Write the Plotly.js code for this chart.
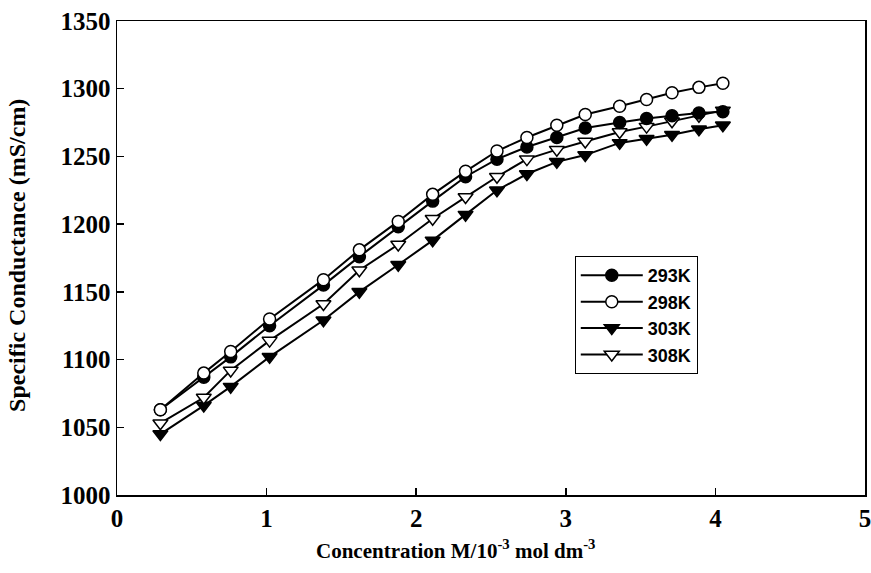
<!DOCTYPE html>
<html>
<head>
<meta charset="utf-8">
<script src="https://cdn.plot.ly/plotly-3.0.1.min.js"></script>
<style>html,body{margin:0;padding:0;background:#fff;}#chart{width:871px;height:573px;}</style>
</head>
<body>
<div id="chart"></div>
<script>
const concentration = [0.29,0.58,0.76,1.02,1.38,1.62,1.88,2.11,2.33,2.54,2.74,2.94,3.13,3.36,3.54,3.71,3.89,4.05];
const k293 = [1063,1087,1102,1125,1155,1176,1198,1217,1235,1248,1257,1264,1271,1275,1278,1280,1282,1283];
const k298 = [1063,1090,1106,1130,1159,1181,1202,1222,1239,1254,1264,1273,1281,1287,1292,1297,1301,1304];
const k303 = [1045,1066,1080,1102,1129,1150,1170,1188,1207,1225,1237,1246,1251,1260,1263,1266,1270,1273];
const k308 = [1053,1072,1092,1114,1141,1166,1185,1204,1220,1235,1248,1255,1261,1268,1272,1276,1280,1284];
const seriesNames = ['293K','298K','303K','308K'];
const xTicks = [0,1,2,3,4,5];
const yTicks = [1000,1050,1100,1150,1200,1250,1300,1350];
const xTitle = 'Concentration M/10<sup>-3</sup> mol dm<sup>-3</sup>';
const yTitle = 'Specific Conductance (mS/cm)';

const symbols = ['circle','circle','triangle-down','triangle-down'];
const fills = ['#000','#fff','#000','#fff'];
const data = [k293,k298,k303,k308].map((ys,i)=>({
  x: concentration, y: ys, name: seriesNames[i], type:'scatter', mode:'lines+markers',
  legendrank: i+1,
  line:{color:'#000', width:2},
  marker:{symbol: symbols[i], size: i>=2?13:12, color: fills[i], line:{color:'#000', width:1.5}}
}));
// draw filled series first so open markers sit on top where they overlap
const order = [data[2], data[3], data[0], data[1]];
const serif = 'Liberation Serif, Times New Roman, serif';
const tickFont = {family:serif, size:25, color:'#000', weight:'bold'};
const layout = {
  width:871, height:573,
  margin:{l:117, r:6, t:21, b:78},
  paper_bgcolor:'#fff', plot_bgcolor:'#fff',
  showlegend:true,
  legend:{x:0.612, y:0.504, xanchor:'left', yanchor:'top', bordercolor:'#000', borderwidth:1,
    bgcolor:'#fff', font:{family:'Liberation Sans, Arial, sans-serif', size:18, color:'#000', weight:'bold'},
    traceorder:'normal', tracegroupgap:0, itemwidth:62},
  xaxis:{range:[0,5], tickvals:xTicks, ticktext:xTicks.map(String), ticks:'inside', ticklen:7, tickwidth:1.5, tickcolor:'#000',
    showline:true, linecolor:'#000', linewidth:1.5, mirror:true, showgrid:false, zeroline:false, automargin:false,
    ticklabeloverflow:'allow', tickfont:tickFont},
  yaxis:{range:[1000,1350], tickvals:yTicks, ticktext:yTicks.map(String), ticks:'inside', ticklen:7, tickwidth:1.5, tickcolor:'#000',
    showline:true, linecolor:'#000', linewidth:1.5, mirror:true, showgrid:false, zeroline:false, automargin:false,
    ticklabeloverflow:'allow', tickfont:tickFont},
  annotations:[
    {text:xTitle, xref:'paper', yref:'paper', x:0.452, y:-0.116, xanchor:'center', yanchor:'middle', showarrow:false,
      font:{family:serif, size:21, color:'#000', weight:'bold'}},
    {text:yTitle, xref:'paper', yref:'paper', x:-0.134, y:0.506, xanchor:'center', yanchor:'middle', textangle:-90, showarrow:false,
      font:{family:serif, size:24, color:'#000', weight:'bold'}}
  ]
};
Plotly.newPlot('chart', order, layout, {staticPlot:true});
</script>
</body>
</html>
